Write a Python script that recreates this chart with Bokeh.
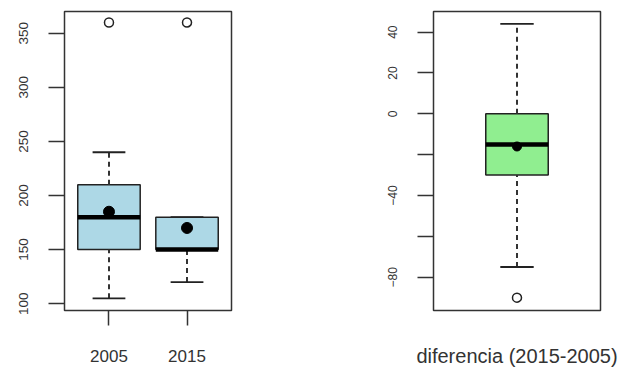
from bokeh.plotting import figure
from bokeh.layouts import row
from bokeh.models import FixedTicker
from bokeh.embed import file_html
from bokeh.resources import INLINE

# ---- data: left panel (values per year) ----
years = ["2005", "2015"]
q1 = [150, 150]
medians = [180, 150]
q3 = [210, 180]
whisk_low = [105, 120]
whisk_high = [240, 180]
means = [185, 170]
outliers = [360, 360]
left_ticks = [100, 150, 200, 250, 300, 350]

# ---- data: right panel (difference 2015-2005) ----
diff_label = "diferencia (2015-2005)"
d_q1 = [-30]
d_median = [-15]
d_q3 = [0]
d_low = [-75]
d_high = [44]
d_mean = [-16]
d_outliers = [-90]
right_ticks = [40, 20, 0, -20, -40, -60, -80]
right_hidden = [-20, -60]

TXT = "#333333"
FRAME = "#333333"


def style(p):
    p.toolbar_location = None
    p.xgrid.visible = False
    p.ygrid.visible = False
    p.outline_line_color = FRAME
    p.outline_line_width = 1.5
    p.background_fill_color = "white"
    p.border_fill_color = "white"
    for ax in p.yaxis:
        ax.axis_line_color = None
        ax.major_tick_out = 16
        ax.major_tick_in = 0
        ax.minor_tick_line_color = None
        ax.major_tick_line_color = FRAME
        ax.major_tick_line_width = 1.5
        ax.major_label_orientation = "vertical"
        ax.major_label_standoff = 20
        ax.major_label_text_font = "Liberation Sans"
        ax.major_label_text_color = TXT


def draw_boxes(p, xs, lo, q1_, med, q3_, hi, mn, outl, color, bw, cw, dot):
    p.vbar(x=xs, width=bw, bottom=q1_, top=q3_, fill_color=color,
           line_color="#222222", line_width=1.5)
    p.segment(x0=xs, y0=q3_, x1=xs, y1=hi, line_color="#333333",
              line_width=2, line_dash="5 4")
    p.segment(x0=xs, y0=lo, x1=xs, y1=q1_, line_color="#333333",
              line_width=2, line_dash="5 4")
    p.segment(x0=[x - cw / 2 for x in xs], y0=hi, x1=[x + cw / 2 for x in xs],
              y1=hi, line_color="#222222", line_width=1.8)
    p.segment(x0=[x - cw / 2 for x in xs], y0=lo, x1=[x + cw / 2 for x in xs],
              y1=lo, line_color="#222222", line_width=1.8)
    p.segment(x0=[x - bw / 2 for x in xs], y0=med, x1=[x + bw / 2 for x in xs],
              y1=med, line_color="black", line_width=4.5)
    p.scatter(x=xs, y=mn, size=dot, marker="circle", fill_color="black",
              line_color="black")
    p.scatter(x=xs[:len(outl)], y=outl, size=9, marker="circle",
              fill_color="white", line_color="#222222", line_width=1.5)


H = 370

# ---------------- left figure ----------------
xs = [i + 1 for i in range(len(years))]
p1 = figure(width=308, height=H, x_range=(0.43, 2.57), y_range=(93.7, 370.1),
            output_backend="svg", toolbar_location=None,
            min_border_left=64, min_border_right=77,
            min_border_top=11, min_border_bottom=H - 11 - 299)
style(p1)
p1.yaxis.ticker = FixedTicker(ticks=left_ticks)
p1.yaxis.major_label_text_font_size = "13.5px"
p1.xaxis.ticker = FixedTicker(ticks=xs)
p1.xaxis.major_label_overrides = {x: y for x, y in zip(xs, years)}
p1.xaxis.axis_line_color = None
p1.xaxis.major_tick_out = 15
p1.xaxis.major_tick_in = 0
p1.xaxis.minor_tick_line_color = None
p1.xaxis.major_tick_line_color = FRAME
p1.xaxis.major_tick_line_width = 1.5
p1.xaxis.major_label_standoff = 24
p1.xaxis.major_label_text_font = "Liberation Sans"
p1.xaxis.major_label_text_font_size = "17px"
p1.xaxis.major_label_text_color = TXT
draw_boxes(p1, xs, whisk_low, q1, medians, q3, whisk_high, means, outliers,
           "#ADD8E6", 0.8, 0.42, 11)

# ---------------- right figure ----------------
p2 = figure(width=311, height=H, x_range=(0.5, 1.5), y_range=(-96.3, 50.1),
            output_backend="svg", toolbar_location=None,
            min_border_left=125, min_border_right=19,
            min_border_top=11, min_border_bottom=H - 11 - 299)
style(p2)
p2.yaxis.ticker = FixedTicker(ticks=right_ticks)
p2.yaxis.major_label_overrides = {t: "" for t in right_hidden}
p2.yaxis.major_label_text_font_size = "12px"
p2.xaxis.ticker = FixedTicker(ticks=[])
p2.xaxis.axis_line_color = None
p2.xaxis.major_tick_line_color = None
p2.xaxis.minor_tick_line_color = None
p2.xaxis.axis_label = diff_label
p2.xaxis.axis_label_standoff = 34
p2.xaxis.axis_label_text_font = "Liberation Sans"
p2.xaxis.axis_label_text_font_style = "normal"
p2.xaxis.axis_label_text_font_size = "20px"
p2.xaxis.axis_label_text_color = TXT
draw_boxes(p2, [1], d_low, d_q1, d_median, d_q3, d_high, d_mean, d_outliers,
           "#90EE90", 0.374, 0.2, 9)

layout = row(p1, p2, spacing=0)
open("out.html", "w").write(file_html(layout, INLINE))
